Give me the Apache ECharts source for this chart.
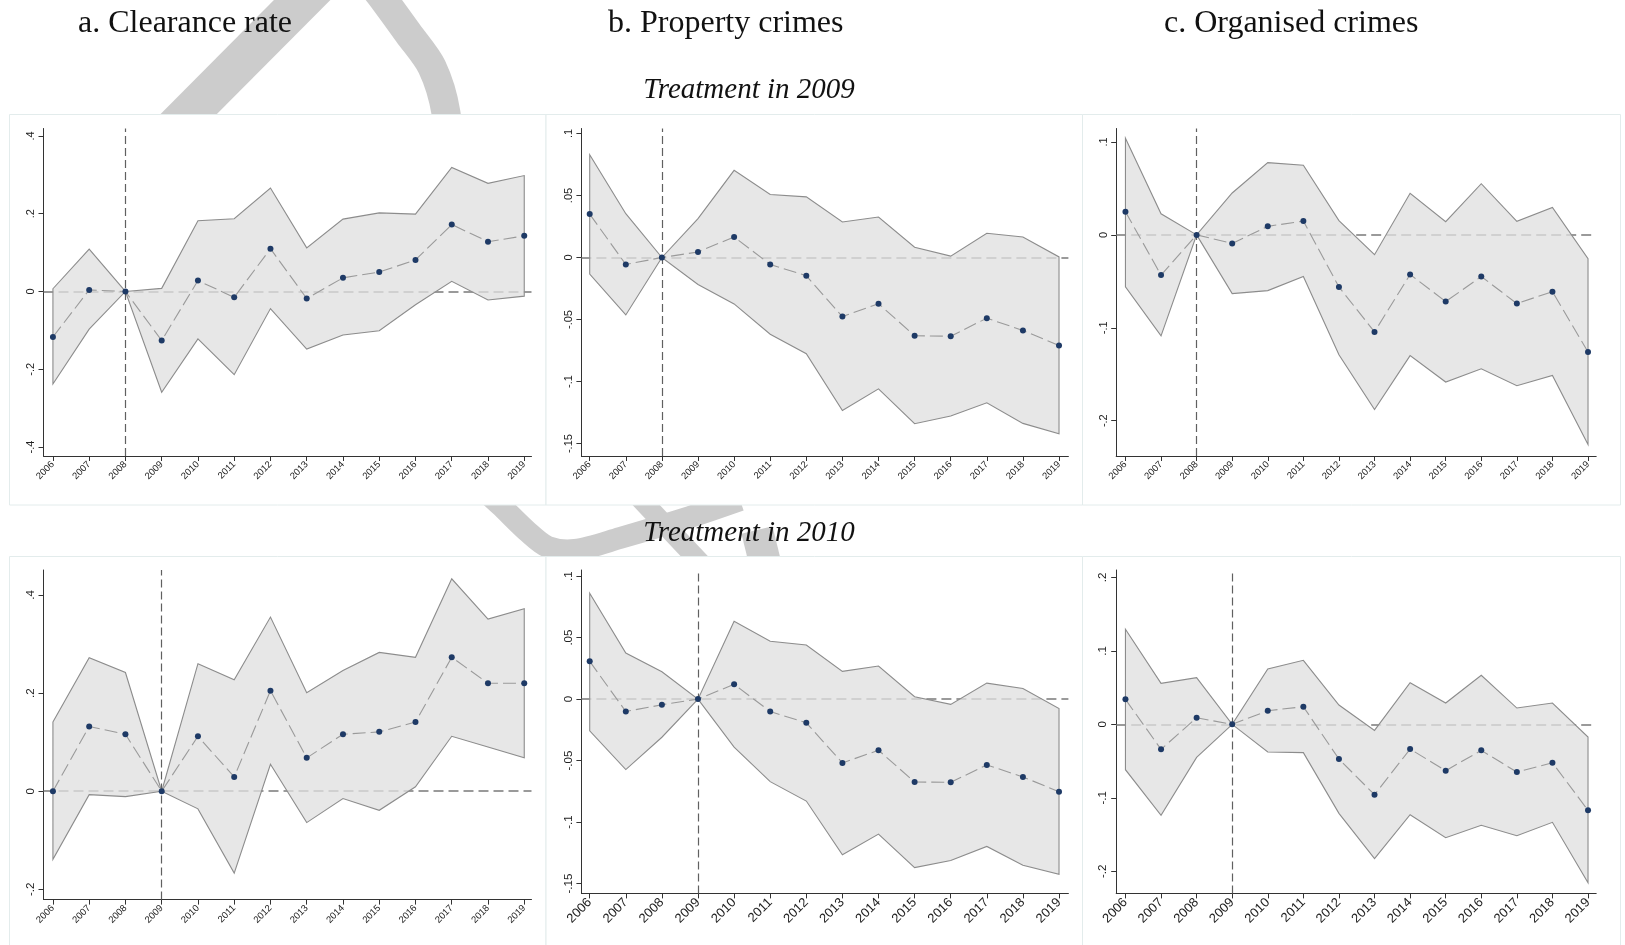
<!DOCTYPE html>
<html>
<head>
<meta charset="utf-8">
<script src="https://cdn.jsdelivr.net/npm/echarts@6/dist/echarts.min.js"></script>
<style>
  html, body { margin: 0; padding: 0; background: #ffffff; }
  #chart { width: 1625px; height: 945px; }
</style>
</head>
<body>
<div id="chart"></div>
<script>
// Event-study estimates with 95% confidence bands, by outcome and treatment year
const years = [2006, 2007, 2008, 2009, 2010, 2011, 2012, 2013, 2014, 2015, 2016, 2017, 2018, 2019];

// Treatment in 2009 (reference year 2008)
const clear09   = [-0.117, 0.004, 0, -0.126, 0.028, -0.015, 0.110, -0.018, 0.035, 0.050, 0.081, 0.172, 0.128, 0.143];
const clear09Lo = [-0.238, -0.097, 0, -0.259, -0.122, -0.214, -0.044, -0.148, -0.112, -0.101, -0.034, 0.026, -0.022, -0.012];
const clear09Hi = [0.007, 0.109, 0, 0.008, 0.182, 0.187, 0.266, 0.112, 0.186, 0.202, 0.199, 0.319, 0.278, 0.298];

const prop09   = [0.0350, -0.0056, 0, 0.0045, 0.0166, -0.0056, -0.0147, -0.0476, -0.0372, -0.0631, -0.0634, -0.0489, -0.0588, -0.0709];
const prop09Lo = [-0.0134, -0.0463, 0, -0.0217, -0.0374, -0.0618, -0.0775, -0.1233, -0.1059, -0.1340, -0.1278, -0.1171, -0.1337, -0.1420];
const prop09Hi = [0.0829, 0.0353, 0, 0.0313, 0.0703, 0.0508, 0.0489, 0.0286, 0.0326, 0.0083, 0.0011, 0.0195, 0.0166, 0.0005];

const org09   = [0.0249, -0.0433, 0, -0.0092, 0.0092, 0.0149, -0.0561, -0.1044, -0.0426, -0.0718, -0.0448, -0.0739, -0.0611, -0.1261];
const org09Lo = [-0.0558, -0.1087, 0, -0.0632, -0.0600, -0.0448, -0.1290, -0.1879, -0.1300, -0.1584, -0.1442, -0.1623, -0.1513, -0.2256];
const org09Hi = [0.1041, 0.0227, 0, 0.0451, 0.0778, 0.0750, 0.0153, -0.0213, 0.0448, 0.0142, 0.0551, 0.0146, 0.0295, -0.0256];

// Treatment in 2010 (reference year 2009)
const clear10   = [0, 0.132, 0.116, 0, 0.112, 0.029, 0.205, 0.068, 0.116, 0.121, 0.141, 0.273, 0.220, 0.220];
const clear10Lo = [-0.139, -0.007, -0.011, 0, -0.036, -0.167, 0.055, -0.064, -0.015, -0.039, 0.009, 0.112, 0.090, 0.068];
const clear10Hi = [0.141, 0.272, 0.242, 0, 0.260, 0.227, 0.355, 0.201, 0.246, 0.283, 0.273, 0.433, 0.351, 0.372];

const prop10   = [0.0307, -0.0101, -0.0046, 0, 0.0120, -0.0101, -0.0193, -0.0519, -0.0416, -0.0674, -0.0677, -0.0535, -0.0633, -0.0753];
const prop10Lo = [-0.0258, -0.0573, -0.0310, 0, -0.0391, -0.0671, -0.0829, -0.1266, -0.1098, -0.1370, -0.1313, -0.1198, -0.1351, -0.1424];
const prop10Hi = [0.0861, 0.0375, 0.0223, 0, 0.0633, 0.0470, 0.0440, 0.0226, 0.0269, 0.0019, -0.0043, 0.0130, 0.0087, -0.0076];

const org10   = [0.034, -0.034, 0.009, 0, 0.0186, 0.024, -0.0472, -0.0957, -0.0336, -0.0630, -0.0354, -0.0649, -0.0522, -0.1170];
const org10Lo = [-0.0617, -0.1238, -0.0449, 0, -0.0376, -0.0385, -0.1211, -0.1828, -0.1229, -0.1542, -0.1374, -0.1515, -0.1333, -0.2154];
const org10Hi = [0.1293, 0.0558, 0.0635, 0, 0.0753, 0.0871, 0.0263, -0.0082, 0.0567, 0.0290, 0.0667, 0.0222, 0.0290, -0.0172];

// Axis tick values
const yTicksClear09 = [-0.4, -0.2, 0, 0.2, 0.4];
const yTicksClear10 = [-0.2, 0, 0.2, 0.4];
const yTicksProp    = [-0.15, -0.1, -0.05, 0, 0.05, 0.1];
const yTicksOrg09   = [-0.2, -0.1, 0, 0.1];
const yTicksOrg10   = [-0.2, -0.1, 0, 0.1, 0.2];

// Titles
const columnTitles = ['a. Clearance rate', 'b. Property crimes', 'c. Organised crimes'];
const rowTitles = ['Treatment in 2009', 'Treatment in 2010'];

// Panel layout and scales
const panels = [
  { est: clear09, lo: clear09Lo, hi: clear09Hi, ticks: yTicksClear09, base: 2008,
    left: 43.5, top: 128.5, width: 488, height: 327.5, xMin: 2005.74, xMax: 2019.2, yMin: -0.423, yMax: 0.419, xFont: 9.5, yFont: 11 },
  { est: prop09, lo: prop09Lo, hi: prop09Hi, ticks: yTicksProp, base: 2008,
    left: 581.4, top: 128.5, width: 487, height: 327.5, xMin: 2005.77, xMax: 2019.26, yMin: -0.160, yMax: 0.104, xFont: 9.5, yFont: 11 },
  { est: org09, lo: org09Lo, hi: org09Hi, ticks: yTicksOrg09, base: 2008,
    left: 1116.2, top: 128.5, width: 480, height: 327.5, xMin: 2005.74, xMax: 2019.23, yMin: -0.238, yMax: 0.1145, xFont: 9.5, yFont: 11 },
  { est: clear10, lo: clear10Lo, hi: clear10Hi, ticks: yTicksClear10, base: 2009,
    left: 43.5, top: 570, width: 488, height: 329.6, xMin: 2005.74, xMax: 2019.2, yMin: -0.221, yMax: 0.451, xFont: 9.5, yFont: 11.5 },
  { est: prop10, lo: prop10Lo, hi: prop10Hi, ticks: yTicksProp, base: 2009,
    left: 581.4, top: 570, width: 487, height: 323.4, xMin: 2005.77, xMax: 2019.26, yMin: -0.158, yMax: 0.105, xFont: 13, yFont: 11.5 },
  { est: org10, lo: org10Lo, hi: org10Hi, ticks: yTicksOrg10, base: 2009,
    left: 1116.2, top: 570, width: 480, height: 323.4, xMin: 2005.74, xMax: 2019.23, yMin: -0.230, yMax: 0.210, xFont: 13, yFont: 11.5 }
];

const SANS = 'Liberation Sans, Arial, sans-serif';
const SERIF = 'Liberation Serif, Times New Roman, serif';

// Stata-style numbers: ".4", "-.05", "0"
function stataNum(v) {
  const n = +(+v).toFixed(4);
  if (n === 0) return '0';
  return String(n).replace(/^(-?)0\./, '$1.');
}

const grid = [], xAxis = [], yAxis = [], series = [];

panels.forEach((p, i) => {
  grid.push({ left: p.left, top: p.top, width: p.width, height: p.height });

  xAxis.push({
    gridIndex: i, type: 'value', min: p.xMin, max: p.xMax, z: 3,
    splitLine: { show: false },
    axisLine: { show: true, onZero: false, lineStyle: { color: '#333', width: 1 } },
    axisTick: { show: true, length: 5, customValues: years, lineStyle: { color: '#333', width: 1 } },
    axisLabel: { customValues: years, rotate: 45, margin: 7, fontSize: p.xFont, fontFamily: SANS,
                 color: '#222', formatter: v => String(Math.round(v)) }
  });

  yAxis.push({
    gridIndex: i, type: 'value', min: p.yMin, max: p.yMax, z: 3,
    splitLine: { show: false },
    axisLine: { show: true, onZero: false, lineStyle: { color: '#333', width: 1 } },
    axisTick: { show: true, length: 5, customValues: p.ticks, lineStyle: { color: '#333', width: 1 } },
    axisLabel: { customValues: p.ticks, rotate: 90, margin: 7, fontSize: p.yFont, fontFamily: SANS,
                 color: '#222', formatter: stataNum }
  });

  // Reference lines: zero effect and the omitted base year
  series.push({
    type: 'line', xAxisIndex: i, yAxisIndex: i, z: 4, silent: true,
    data: [[p.base, 0]], symbol: 'none', lineStyle: { opacity: 0 },
    markLine: {
      silent: true, symbol: ['none', 'none'], label: { show: false }, animation: false,
      data: [
        { yAxis: 0, lineStyle: { color: '#7a7a7a', width: 1.6, type: [10, 5] } },
        { xAxis: p.base, lineStyle: { color: '#606060', width: 1.2, type: [8, 4] } }
      ]
    }
  });

  // Confidence band as a filled polygon through the axis scales
  series.push({
    type: 'custom', xAxisIndex: i, yAxisIndex: i, z: 5, silent: true, clip: false,
    data: years.map((y, k) => [y, p.lo[k], p.hi[k]]),
    encode: { x: 0, y: [1, 2] },
    renderItem: (params, api) => {
      if (params.dataIndex !== 0) return null;
      const upper = years.map((y, k) => api.coord([y, p.hi[k]]));
      const lower = years.map((y, k) => api.coord([y, p.lo[k]])).reverse();
      return {
        type: 'polygon',
        shape: { points: upper.concat(lower) },
        style: { fill: 'rgba(224,224,224,0.77)', stroke: '#8c8c8c', lineWidth: 1.1, lineJoin: 'miter' }
      };
    }
  });

  // Point estimates joined by a dashed line
  series.push({
    type: 'line', xAxisIndex: i, yAxisIndex: i, z: 7, silent: true,
    data: years.map((y, k) => [y, p.est[k]]),
    symbol: 'circle', symbolSize: 6, showAllSymbol: true,
    itemStyle: { color: '#1e3a66', borderWidth: 0 },
    lineStyle: { color: '#9a9a9a', width: 1.1, type: [13, 5] }
  });
});

// Panel frames and decorative backdrop strokes
const graphic = [];
const strokeColor = '#cccccc';
graphic.push(
  { type: 'polyline', z: 0, silent: true, shape: { points: [[139, 164], [332, -30]] },
    style: { stroke: strokeColor, lineWidth: 40, fill: null } },
  { type: 'polyline', z: 0, silent: true,
    shape: { points: [[370, -18], [384, 0], [408, 33], [432, 67], [446, 113], [448, 165]], smooth: 0.3 },
    style: { stroke: strokeColor, lineWidth: 29, fill: null } },
  { type: 'polyline', z: 0, silent: true,
    shape: { points: [[468, 476], [500, 505], [528, 532], [548, 547], [575, 550], [620, 538], [690, 517], [740, 500]], smooth: 0.3 },
    style: { stroke: strokeColor, lineWidth: 22, fill: null } },
  { type: 'polyline', z: 0, silent: true, shape: { points: [[632, 490], [712, 575]] },
    style: { stroke: strokeColor, lineWidth: 20, fill: null } },
  { type: 'polyline', z: 0, silent: true, shape: { points: [[757, 530], [768, 575]] },
    style: { stroke: strokeColor, lineWidth: 32, fill: null } }
);

const frameCols = [[9.5, 536.5], [546, 536.5], [1082.5, 538]];
const frameRows = [[114.5, 390.5], [556.5, 400]];
frameRows.forEach(r => frameCols.forEach(c => {
  graphic.push({ type: 'rect', z: 1, silent: true,
    shape: { x: c[0], y: r[0], width: c[1], height: r[1] },
    style: { fill: '#ffffff', stroke: '#e3ecec', lineWidth: 1 } });
}));

const titleX = [78, 608, 1164];
columnTitles.forEach((t, k) => {
  graphic.push({ type: 'text', z: 10, silent: true, x: titleX[k], y: 23.5,
    style: { text: t, font: '32px ' + SERIF, fill: '#111', textAlign: 'left', textVerticalAlign: 'middle' } });
});
const rowTitleY = [90.5, 533.5];
rowTitles.forEach((t, k) => {
  graphic.push({ type: 'text', z: 10, silent: true, x: 749, y: rowTitleY[k],
    style: { text: t, font: 'italic 29px ' + SERIF, fill: '#111', textAlign: 'center', textVerticalAlign: 'middle' } });
});

const chart = echarts.init(document.getElementById('chart'), null, { renderer: 'canvas' });
chart.setOption({
  backgroundColor: '#ffffff',
  animation: false,
  grid, xAxis, yAxis, series, graphic
});
</script>
</body>
</html>
